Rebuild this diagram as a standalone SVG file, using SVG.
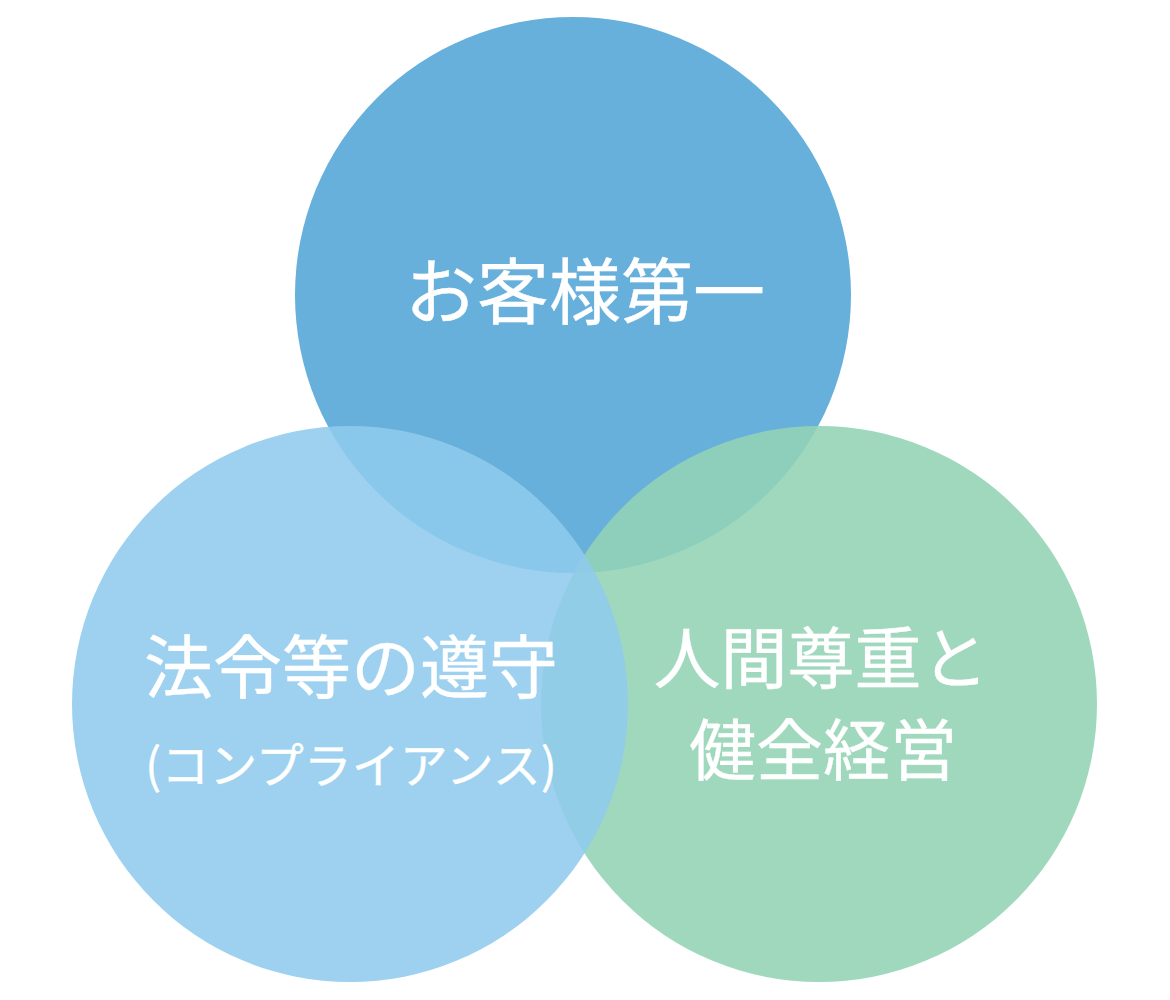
<svg xmlns="http://www.w3.org/2000/svg" width="1170" height="1000" viewBox="0 0 1170 1000">
<style>
.t{font-family:"Noto Sans CJK JP","Noto Sans CJK SC",sans-serif;fill:#ffffff;font-weight:400;stroke:#ffffff;stroke-width:0.4;stroke-linejoin:round}
</style>
<rect width="1170" height="1000" fill="#ffffff"/>
<g id="node-customer">
<circle cx="573" cy="295" r="278" fill="#67B0DB"/>
</g>
<g id="node-human">
<circle cx="819" cy="704" r="278" fill="#93D3B5" fill-opacity="0.88"/>
</g>
<g id="node-compliance">
<circle cx="350" cy="704" r="278" fill="#90CBED" fill-opacity="0.88"/>
</g>
<g id="labels">
<text class="t" x="585" y="318" font-size="72" text-anchor="middle">お客様第一</text>
<text class="t" x="351" y="693" font-size="69" text-anchor="middle">法令等の遵守</text>
<text class="t" x="351" y="783" font-size="48" text-anchor="middle">(コンプライアンス)</text>
<text class="t" x="821" y="683" font-size="67" text-anchor="middle">人間尊重と</text>
<text class="t" x="823" y="775" font-size="67" text-anchor="middle">健全経営</text>
</g>
<g id="connectors"></g>
</svg>
